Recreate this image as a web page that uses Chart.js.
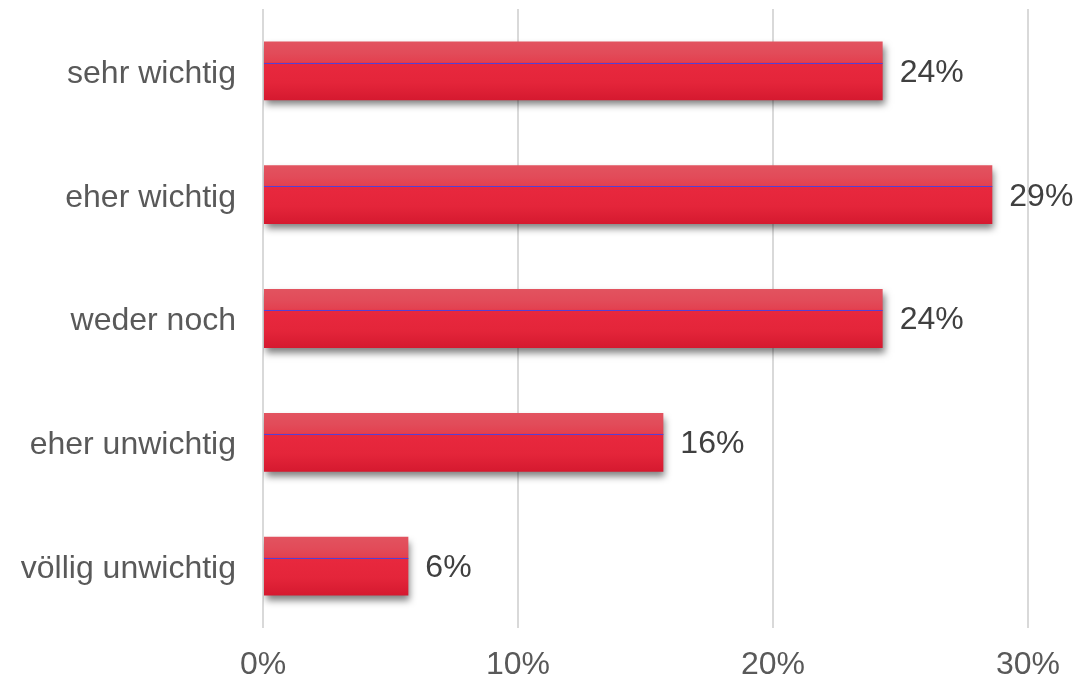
<!DOCTYPE html>
<html>
<head>
<meta charset="utf-8">
<script src="https://cdn.jsdelivr.net/npm/chart.js@4/dist/chart.umd.min.js"></script>
<style>
  html, body { margin: 0; padding: 0; background: #ffffff; }
  #wrap { width: 1092px; height: 681px; }
</style>
</head>
<body>
<div id="wrap"><canvas id="c" width="1092" height="681"></canvas></div>
<script>
// Importance ratings, share of respondents (%)
const categories = ['sehr wichtig', 'eher wichtig', 'weder noch', 'eher unwichtig', 'völlig unwichtig'];
const shares = [24.3, 28.6, 24.3, 15.7, 5.7];
const xTicks = [0, 10, 20, 30];

const FONT = '"Liberation Sans", Arial, sans-serif';
const BAR_SHARE = 0.95 * 0.5; // barPercentage * categoryPercentage

// Vertical red gradient with a lighter upper band, computed from the bar's slot
function barFill(ctx) {
  const chart = ctx.chart;
  const ys = chart.scales && chart.scales.y;
  if (!ys || !chart.chartArea || ctx.dataIndex === undefined) return '#e3283c';
  const center = ys.getPixelForValue(ctx.dataIndex);
  const band = ys.height / categories.length;
  const h = band * BAR_SHARE;
  const top = center - h / 2, bot = center + h / 2;
  const g = chart.ctx.createLinearGradient(0, top, 0, bot);
  g.addColorStop(0, '#e2535f');
  g.addColorStop(0.2, '#e24b59');
  g.addColorStop(0.34, '#e34150');
  g.addColorStop(0.38, '#e8283e');
  g.addColorStop(0.7, '#e4253a');
  g.addColorStop(1, '#d5192f');
  return g;
}

// Soft grey drop shadow beneath the bars
const barShadow = {
  id: 'barShadow',
  beforeDatasetDraw(chart) {
    const c = chart.ctx;
    c.save();
    c.shadowColor = 'rgba(0,0,0,0.5)';
    c.shadowBlur = 7;
    c.shadowOffsetX = 2;
    c.shadowOffsetY = 5;
  },
  afterDatasetDraw(chart) {
    chart.ctx.restore();
  }
};

// Thin highlight line across each bar and value labels at the bar ends
const barDecor = {
  id: 'barDecor',
  afterDatasetsDraw(chart) {
    const c = chart.ctx;
    const meta = chart.getDatasetMeta(0);
    c.save();
    c.shadowColor = 'transparent';
    meta.data.forEach((bar, i) => {
      const top = bar.y - bar.height / 2;
      const yLine = Math.round(top + bar.height * 0.36);
      c.fillStyle = '#5440d4';
      c.fillRect(bar.base, yLine, bar.x - bar.base, 1);

      c.fillStyle = '#404040';
      c.font = '32px ' + FONT;
      c.textAlign = 'left';
      c.textBaseline = 'middle';
      c.fillText(Math.round(shares[i]) + '%', bar.x + 17, bar.y + 2);
    });
    c.restore();
  }
};

new Chart(document.getElementById('c'), {
  type: 'bar',
  data: {
    labels: categories,
    datasets: [{
      data: shares,
      backgroundColor: barFill,
      borderWidth: 0,
      barPercentage: 0.95,
      categoryPercentage: 0.5
    }]
  },
  options: {
    indexAxis: 'y',
    responsive: false,
    animation: false,
    devicePixelRatio: 1,
    layout: { padding: { top: 9, right: 64, left: 0, bottom: 0 } },
    plugins: { legend: { display: false }, tooltip: { enabled: false } },
    scales: {
      x: {
        min: 0,
        max: 30,
        afterBuildTicks(scale) { scale.ticks = xTicks.map(v => ({ value: v })); },
        afterFit(scale) { scale.height = 53; },
        grid: { color: '#d9d9d9', lineWidth: 2, drawTicks: false },
        border: { display: false },
        ticks: {
          padding: 18,
          color: '#595959',
          font: { family: FONT, size: 32 },
          callback: v => v + '%'
        }
      },
      y: {
        afterFit(scale) {
          scale.width = 263;
          scale.paddingTop = 0;
          scale.paddingBottom = 0;
        },
        grid: { display: false, drawTicks: false },
        border: { display: false },
        ticks: {
          padding: 27,
          labelOffset: 3,
          color: '#595959',
          font: { family: FONT, size: 32 }
        }
      }
    }
  },
  plugins: [barShadow, barDecor]
});
</script>
</body>
</html>
